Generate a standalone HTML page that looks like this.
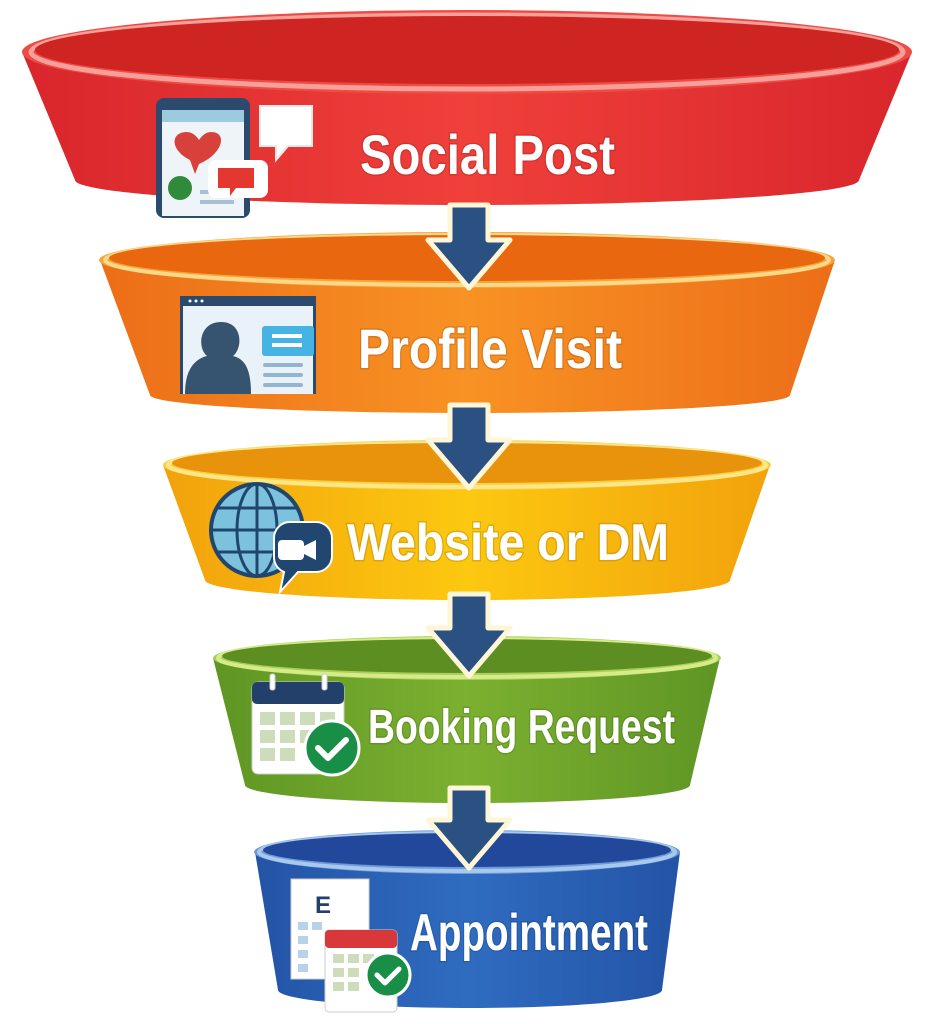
<!DOCTYPE html>
<html><head><meta charset="utf-8"><style>
html,body{margin:0;padding:0;background:#fff;}
svg{display:block}
.t{font-family:"Liberation Sans Narrow","Liberation Sans",sans-serif;font-weight:bold;fill:#fff;}
</style></head><body>
<svg width="932" height="1024" viewBox="0 0 932 1024" xmlns="http://www.w3.org/2000/svg">
<defs>
<linearGradient id="gr" x1="0" x2="1"><stop offset="0" stop-color="#d8262c"/><stop offset=".5" stop-color="#f0403a"/><stop offset="1" stop-color="#d8262c"/></linearGradient>
<linearGradient id="go" x1="0" x2="1"><stop offset="0" stop-color="#ec6e18"/><stop offset=".5" stop-color="#f89224"/><stop offset="1" stop-color="#ec6e18"/></linearGradient>
<linearGradient id="gy" x1="0" x2="1"><stop offset="0" stop-color="#f2a20c"/><stop offset=".5" stop-color="#fcc810"/><stop offset="1" stop-color="#f2a20c"/></linearGradient>
<linearGradient id="gg" x1="0" x2="1"><stop offset="0" stop-color="#5f9624"/><stop offset=".5" stop-color="#7bb030"/><stop offset="1" stop-color="#5f9624"/></linearGradient>
<linearGradient id="gb" x1="0" x2="1"><stop offset="0" stop-color="#2354a6"/><stop offset=".5" stop-color="#2f6cc0"/><stop offset="1" stop-color="#2354a6"/></linearGradient>
</defs>

<!-- RED -->
<path d="M22,52 L75,180 A392,25 0 0 0 859,180 L912,52 Z" fill="url(#gr)"/>
<ellipse cx="467" cy="52" rx="445" ry="42" fill="#f04a44"/>
<ellipse cx="467" cy="52" rx="436" ry="37" fill="none" stroke="#f7a09a" stroke-width="5"/>
<ellipse cx="467" cy="50" rx="432" ry="34" fill="#cf2522"/>

<!-- ORANGE -->
<path d="M100,260 L150,395 A320,18 0 0 0 790,395 L835,260 Z" fill="url(#go)"/>
<ellipse cx="467" cy="260" rx="368" ry="28" fill="#f7a53a"/>
<ellipse cx="467" cy="260" rx="362" ry="25" fill="none" stroke="#fbd88a" stroke-width="4"/>
<ellipse cx="467" cy="258" rx="358" ry="23" fill="#e9680f"/>

<!-- YELLOW -->
<path d="M163,465 L205,580 A262,20 0 0 0 730,580 L770,465 Z" fill="url(#gy)"/>
<ellipse cx="467" cy="465" rx="304" ry="25" fill="#f9d040"/>
<ellipse cx="467" cy="465" rx="299" ry="22" fill="none" stroke="#fbe78a" stroke-width="4"/>
<ellipse cx="467" cy="463" rx="295" ry="20" fill="#e9920c"/>

<!-- GREEN -->
<path d="M213,658 L245,785 A222,18 0 0 0 690,785 L720,658 Z" fill="url(#gg)"/>
<ellipse cx="467" cy="658" rx="254" ry="22" fill="#a8cf5a"/>
<ellipse cx="467" cy="658" rx="249" ry="19" fill="none" stroke="#d8eb8a" stroke-width="4"/>
<ellipse cx="467" cy="656" rx="245" ry="17" fill="#5c8e22"/>

<!-- BLUE -->
<path d="M255,852 L278,990 A192,18 0 0 0 662,990 L680,852 Z" fill="url(#gb)"/>
<ellipse cx="467" cy="852" rx="213" ry="22" fill="#6d9ad8"/>
<ellipse cx="467" cy="852" rx="208" ry="19" fill="none" stroke="#a9c8ee" stroke-width="4"/>
<ellipse cx="467" cy="850" rx="204" ry="17" fill="#21489a"/>

<!-- ARROWS -->
<g fill="#2b5182" stroke="#fff6d8" stroke-width="5" stroke-linejoin="round">
<path d="M450,205 L488,205 L488,240 L510,240 L469,288 L428,240 L450,240 Z"/>
<path d="M450,405 L488,405 L488,440 L510,440 L469,488 L428,440 L450,440 Z"/>
<path d="M450,594 L488,594 L488,628 L510,628 L469,676 L428,628 L450,628 Z"/>
<path d="M450,788 L488,788 L488,820 L510,820 L469,868 L428,820 L450,820 Z"/>
</g>

<!-- ICON 1: phone + bubbles -->
<rect x="156" y="98" width="94" height="120" rx="8" fill="#2b4a6e"/>
<rect x="162" y="110" width="82" height="106" fill="#eef4f8"/>
<rect x="162" y="110" width="82" height="12" fill="#9ccbe0"/>
<path d="M190,160 c-20,-10 -20,-28 -3,-28 c6,0 10,5 12,8 c2,-3 6,-8 12,-8 c17,0 12,22 -12,32 l-4,10 z" fill="#d8403c"/>
<circle cx="180" cy="188" r="12" fill="#2f8a3a"/>
<rect x="200" y="190" width="34" height="4" fill="#a9c0d4"/><rect x="200" y="200" width="34" height="4" fill="#a9c0d4"/>
<path d="M260,106 h52 v40 h-24 l-12,14 v-14 h-16 z" fill="#fff" stroke="#e8e8e8" stroke-width="2"/>
<rect x="208" y="160" width="60" height="38" rx="8" fill="#fff"/>
<path d="M218,168 h36 v20 h-18 l-6,8 v-8 h-12 z" fill="#e3372f"/>

<!-- ICON 2: profile card -->
<rect x="180" y="296" width="136" height="98" fill="#2b4a6e"/>
<rect x="183" y="306" width="130" height="88" fill="#e9f2f8"/>
<circle cx="190" cy="301" r="1.5" fill="#fff"/><circle cx="196" cy="301" r="1.5" fill="#fff"/><circle cx="202" cy="301" r="1.5" fill="#fff"/>
<path d="M185,394 c0,-25 10,-35 22,-38 c-10,-8 -8,-34 14,-34 c22,0 22,26 12,34 c12,3 18,13 18,38 z" fill="#36536f"/>
<rect x="262" y="326" width="52" height="30" rx="3" fill="#45b4e4"/>
<rect x="272" y="334" width="30" height="4" fill="#fff"/><rect x="272" y="343" width="30" height="4" fill="#fff"/>
<rect x="263" y="363" width="40" height="4" rx="2" fill="#93b6d0"/><rect x="263" y="373" width="40" height="4" rx="2" fill="#93b6d0"/><rect x="263" y="383" width="40" height="4" rx="2" fill="#93b6d0"/>

<!-- ICON 3: globe + chat -->
<circle cx="257" cy="530" r="46" fill="#7cc2dc" stroke="#20466e" stroke-width="4"/>
<g fill="none" stroke="#20466e" stroke-width="3">
<ellipse cx="257" cy="530" rx="20" ry="46"/><line x1="257" y1="484" x2="257" y2="576"/>
<line x1="212" y1="530" x2="302" y2="530"/><path d="M218,508 h78 M218,552 h78"/></g>
<path d="M290,522 h26 a16,16 0 0 1 16,16 v18 a16,16 0 0 1 -16,16 h-18 l-18,20 l4,-20 a16,16 0 0 1 -10,-16 v-18 a16,16 0 0 1 16,-16 z" fill="#21466f" stroke="#fff" stroke-width="2"/>
<rect x="278" y="540" width="26" height="20" rx="4" fill="#fff"/><path d="M304,546 l12,-6 v20 l-12,-6 z" fill="#fff"/>

<!-- ICON 4: calendar + check -->
<rect x="252" y="682" width="92" height="92" rx="6" fill="#fff" stroke="#ccc"/>
<rect x="252" y="682" width="92" height="22" rx="5" fill="#22406a"/>
<rect x="270" y="674" width="5" height="16" rx="2" fill="#fff" stroke="#ccc"/><rect x="322" y="674" width="5" height="16" rx="2" fill="#fff" stroke="#ccc"/>
<g fill="#cfdcbc">
<rect x="260" y="712" width="15" height="13"/><rect x="280" y="712" width="15" height="13"/><rect x="300" y="712" width="15" height="13"/><rect x="320" y="712" width="15" height="13"/>
<rect x="260" y="730" width="15" height="13"/><rect x="280" y="730" width="15" height="13"/><rect x="300" y="730" width="15" height="13"/>
<rect x="260" y="748" width="15" height="13"/><rect x="280" y="748" width="15" height="13"/></g>
<circle cx="332" cy="748" r="27" fill="#188e46" stroke="#fff" stroke-width="3"/>
<path d="M318,748 l10,10 l18,-18" fill="none" stroke="#fff" stroke-width="6" stroke-linecap="round" stroke-linejoin="round"/>

<!-- ICON 5: eye chart + calendar -->
<rect x="291" y="879" width="78" height="100" fill="#fff" stroke="#ccc"/>
<text x="315" y="913" font-family="Liberation Sans,sans-serif" font-weight="bold" font-size="24" fill="#22406a">E</text>
<g fill="#b8d2ea"><rect x="298" y="922" width="10" height="8"/><rect x="312" y="922" width="10" height="8"/><rect x="298" y="936" width="10" height="8"/><rect x="298" y="950" width="10" height="8"/><rect x="298" y="964" width="10" height="8"/></g>
<rect x="325" y="930" width="72" height="82" rx="4" fill="#fff" stroke="#ccc"/>
<rect x="325" y="930" width="72" height="18" rx="4" fill="#d9383a"/>
<g fill="#cfdcbc"><rect x="333" y="954" width="11" height="9"/><rect x="348" y="954" width="11" height="9"/><rect x="363" y="954" width="11" height="9"/><rect x="333" y="968" width="11" height="9"/><rect x="348" y="968" width="11" height="9"/><rect x="333" y="982" width="11" height="9"/><rect x="348" y="982" width="11" height="9"/></g>
<circle cx="388" cy="975" r="22" fill="#188e46" stroke="#fff" stroke-width="3"/>
<path d="M377,975 l8,8 l14,-14" fill="none" stroke="#fff" stroke-width="5" stroke-linecap="round" stroke-linejoin="round"/>

<!-- TEXT -->
<g class="t" style="paint-order:stroke" stroke="rgba(0,0,0,0.12)" stroke-width="3">
<text x="360" y="174" font-size="56" textLength="255" lengthAdjust="spacingAndGlyphs">Social Post</text>
<text x="358" y="368" font-size="56" textLength="264" lengthAdjust="spacingAndGlyphs">Profile Visit</text>
<text x="347" y="560" font-size="52" textLength="322" lengthAdjust="spacingAndGlyphs">Website or DM</text>
<text x="368" y="743" font-size="48" textLength="307" lengthAdjust="spacingAndGlyphs">Booking Request</text>
<text x="410" y="950" font-size="52" textLength="238" lengthAdjust="spacingAndGlyphs">Appointment</text>
</g>
</svg>
</body></html>
